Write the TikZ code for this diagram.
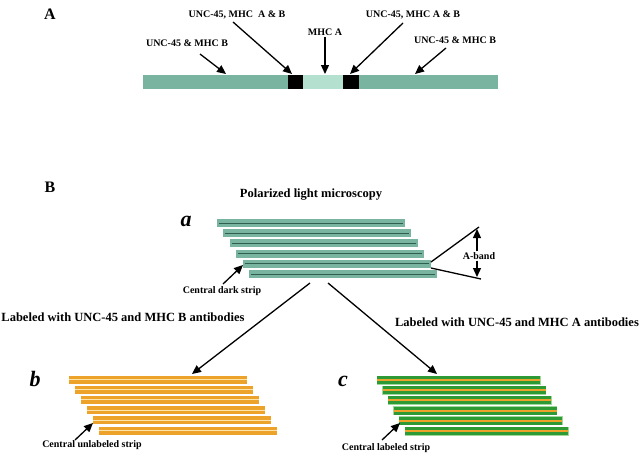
\documentclass[tikz,border=0pt]{standalone}
\usepackage{fontspec}
\setmainfont{Liberation Serif}
\usetikzlibrary{arrows.meta}
\definecolor{tealM}{HTML}{78B4A0}
\definecolor{tealL}{HTML}{B4E0D0}
\definecolor{tealD}{HTML}{2F5E50}
\definecolor{orng}{HTML}{EDA22A}
\definecolor{orngL}{HTML}{FCE3A8}
\definecolor{grn}{HTML}{2E9A35}
\definecolor{grnL}{HTML}{9ED89A}
\begin{document}
\begin{tikzpicture}[x=1pt,y=-1pt,
  lab/.style={font=\bfseries\fontsize{10}{12}\selectfont, inner sep=1pt},
  big/.style={font=\bfseries\fontsize{12.5}{14}\selectfont, inner sep=1pt},
  panel/.style={font=\bfseries\fontsize{16}{18}\selectfont, inner sep=1pt},
  sub/.style={font=\bfseries\itshape\fontsize{22}{24}\selectfont, inner sep=1pt},
  arr/.style={-{Triangle[length=9pt,width=8pt]}, line width=1.3pt},
  ln/.style={line width=1.3pt}]
\useasboundingbox (0,0) rectangle (640,456);
% ---------------- Part A ----------------
\node[panel] (A) at (50,14) {A};
\fill[tealM] (143,75) rectangle (498,89);
\fill[tealL] (303,75) rectangle (343,89);
\fill[black] (288,75) rectangle (303,89);
\fill[black] (343,75) rectangle (359,89);
\coordinate (t1) at (226,74);
\coordinate (t2) at (292,74);
\coordinate (t3) at (325,74);
\coordinate (t4) at (350,74);
\coordinate (t5) at (415,74);
\node[lab] (l1) at (187,43) {UNC-45 \& MHC B};
\node[lab] (l2) at (237,15) {UNC-45, MHC\ \ A \& B};
\node[lab] (l3) at (325,32) {MHC A};
\node[lab] (l4) at (413,15) {UNC-45, MHC A \& B};
\node[lab] (l5) at (455,40) {UNC-45 \& MHC B};
\coordinate (s1) at (200,54);
\coordinate (s2) at (233,22);
\coordinate (s4) at (403,23);
\coordinate (s5) at (446,48);
\draw[arr] (s1) -- (t1);
\draw[arr] (s2) -- (t2);
\draw[arr] (l3.south) -- (t3);
\draw[arr] (s4) -- (t4);
\draw[arr] (s5) -- (t5);
% ---------------- Part B ----------------
\node[panel] (B) at (50,187) {B};
\node[big] (pol) at (311,195) {Polarized light microscopy};
\node[sub] (a) at (186,221) {a};
\foreach \i in {0,...,5}{
  \fill[tealM] (217+6.4*\i, 219+10.2*\i) rectangle ++(188,8);
  \draw[tealD, line width=0.7pt] (219+6.4*\i, 223+10.2*\i) -- ++(184,0);
}
\coordinate (ab1) at (431,262);
\coordinate (ab2) at (431,268);
\coordinate (abT) at (479,227);
\coordinate (abB) at (481,279);
\draw[ln] (ab1) -- (abT);
\draw[ln] (ab2) -- (abB);
\node[lab, fill=white] (aband) at (479,256) {A-band};
\coordinate (abU) at (477,229);
\coordinate (abD) at (477,277);
\draw[arr] (aband.north -| abU) -- (abU);
\draw[arr] (aband.south -| abD) -- (abD);
\node[lab] (cds) at (222,291) {Central dark strip};
\coordinate (cdsS) at (223,284);
\coordinate (cdsT) at (243,265);
\draw[arr] (cdsS) -- (cdsT);
% branches
\coordinate (brL) at (310,283);
\coordinate (brR) at (328,283);
\coordinate (bT) at (192,374);
\coordinate (cT) at (437,374);
\draw[arr] (brL) -- (bT);
\draw[arr] (brR) -- (cT);
\node[big] (lb) at (123,317) {Labeled with UNC-45 and MHC B antibodies};
\node[big] (la) at (517,322) {Labeled with UNC-45 and MHC A antibodies};
% b
\node[sub] (b) at (35,379) {b};
\foreach \i in {0,...,5}{
  \fill[orng] (69+6*\i, 375.5+10.2*\i) rectangle ++(178,8);
  \draw[orngL, line width=0.9pt] (69+6*\i, 379.5+10.2*\i) -- ++(178,0);
}
\node[lab] (cus) at (92,445) {Central unlabeled strip};
\coordinate (cusS) at (75,440);
\coordinate (cusT) at (93,423);
\draw[arr] (cusS) -- (cusT);
% c
\node[sub] (c) at (343,381) {c};
\foreach \i in {0,...,5}{
  \fill[grnL] (376.5+5.6*\i, 375.5+10.2*\i) rectangle ++(164,9);
  \fill[grn] (377+5.6*\i, 376+10.2*\i) rectangle ++(163,8);
  \draw[orng, line width=2pt] (377+5.6*\i, 380+10.2*\i) -- ++(163,0);
}
\node[lab] (cls) at (386,448) {Central labeled strip};
\coordinate (clsS) at (382,440);
\coordinate (clsT) at (400,423);
\draw[arr] (clsS) -- (clsT);
\end{tikzpicture}
\end{document}
